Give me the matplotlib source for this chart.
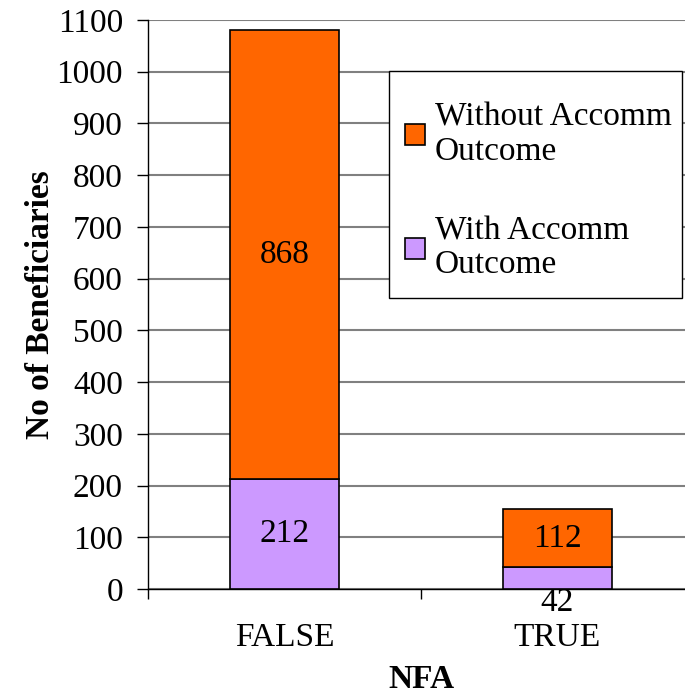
import numpy as np
import matplotlib.pyplot as plt
from matplotlib.patches import Rectangle
from matplotlib.ticker import FixedLocator

categories = ['FALSE', 'TRUE']
with_accomm = [212, 42]
without_accomm = [868, 112]

plt.rcParams['font.family'] = ['Liberation Serif', 'DejaVu Serif']

fig = plt.figure(figsize=(6.85, 6.97), dpi=100)
ax = fig.add_axes([148/685, 108/697, 546/685, 569/697])

x = np.arange(len(categories)) + 0.5
w = 0.4
b1 = ax.bar(x, with_accomm, w, color='#cc99ff', edgecolor='black', linewidth=1.2,
            label='With Accomm\nOutcome', zorder=3)
b2 = ax.bar(x, without_accomm, w, bottom=with_accomm, color='#ff6600', edgecolor='black',
            linewidth=1.2, label='Without Accomm\nOutcome', zorder=3)

# labels
for i in range(len(categories)):
    ax.text(x[i], with_accomm[i] + without_accomm[i] / 2, str(without_accomm[i]),
            ha='center', va='center', fontsize=24, zorder=4)
    if with_accomm[i] > 100:
        ax.text(x[i], with_accomm[i] / 2, str(with_accomm[i]),
                ha='center', va='center', fontsize=24, zorder=4)
    else:
        ax.annotate(str(with_accomm[i]), (x[i], 0), xytext=(0, 1), textcoords='offset points',
                    ha='center', va='top', fontsize=24, zorder=4)

ax.set_xlim(0, 2)
ax.set_ylim(0, 1100)
ax.set_yticks(np.arange(0, 1101, 100))
ax.yaxis.grid(True, color='#808080', linewidth=1.5, zorder=0)
ax.tick_params(axis='y', labelsize=24, length=8, width=1, direction='out', pad=10)

ax.set_xticks(x)
ax.set_xticklabels(categories)
ax.tick_params(axis='x', which='major', length=0, labelsize=24, pad=24)
ax.xaxis.set_minor_locator(FixedLocator([0, 1, 2]))
ax.tick_params(axis='x', which='minor', length=7, width=1, direction='out')

for s in ['top', 'right']:
    ax.spines[s].set_visible(False)
ax.spines['left'].set_linewidth(1)
ax.spines['bottom'].set_linewidth(1)

ax.set_ylabel('No of Beneficiaries', fontsize=24, fontweight='bold', labelpad=0)
ax.set_xlabel('NFA', fontsize=24, fontweight='bold', labelpad=8)

# legend box
box = Rectangle((0.4414, 0.5114), 0.5366, 0.399, transform=ax.transAxes,
                facecolor='white', edgecolor='black', linewidth=1, zorder=5)
ax.add_patch(box)
leg = ax.legend(handles=[b2, b1], loc='center left', bbox_to_anchor=(0.4707, 0.699),
                fontsize=24, frameon=False,
                handlelength=0.6, handleheight=0.6, handletextpad=0.3,
                labelspacing=1.48, borderpad=0, borderaxespad=0)
for t in leg.get_texts():
    t.set_linespacing(1.15)
leg.set_zorder(6)

fig.savefig('out.png', dpi=100)
